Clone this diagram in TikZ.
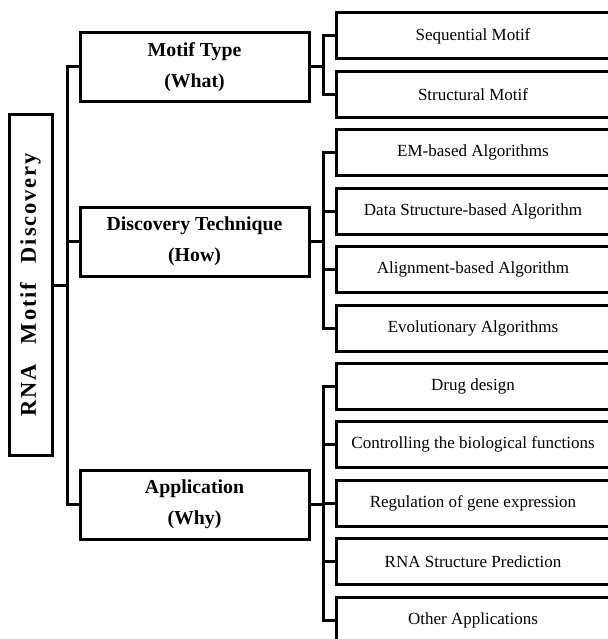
\documentclass[tikz,border=0pt]{standalone}
\usepackage{fontspec}
\setmainfont{Liberation Serif}
\newfontfamily\rootfont[LetterSpace=8]{Liberation Serif}

\begin{document}
\begin{tikzpicture}[x=1pt, y=-1pt, line width=3pt,
    box/.style={draw, rectangle, inner sep=0pt},
    leaf/.style={box, minimum width=274pt, minimum height=46pt, font=\fontsize{17}{20}\selectfont},
    mid/.style={box, minimum width=229pt, minimum height=69pt, align=center, font=\bfseries\fontsize{19.8}{31}\selectfont}]
  \useasboundingbox (0,0) rectangle (607,639);
      \node (root) at (30.5,285) [box, rotate=90, minimum width=341pt, minimum height=43pt, font=\rootfont\bfseries\fontsize{22.5}{24}\selectfont] {RNA\hspace{20pt}Motif\hspace{20pt}Discovery};
      \node (what) at (194.5,67)  [mid] {Motif Type\\(What)};
      \node (how) at (194.5,241.5)  [mid] {Discovery Technique\\(How)};
      \node (why) at (194.5,504.5)  [mid] {Application\\(Why)};
      \foreach \n/\t [count=\i from 0] in {seq/Sequential Motif, struc/Structural Motif, em/EM-based Algorithms, ds/Data Structure-based Algorithm, al/Alignment-based Algorithm, evo/Evolutionary Algorithms, drug/Drug design, ctrl/Controlling the biological functions, reg/Regulation of gene expression, rnasp/RNA Structure Prediction, other/Other Applications} {
        \node (\n) at (473,{36+58.4*\i})  [leaf] {\t};
      }
      \foreach \m in {what,how,why} \draw (root.south) -- ++(14,0) |- (\m.west);
      \foreach \n in {seq,struc} \draw (what.east) -- ++(13,0) |- (\n.west);
      \foreach \n in {em,ds,al,evo} \draw (how.east) -- ++(13,0) |- (\n.west);
      \foreach \n in {drug,ctrl,reg,rnasp,other} \draw (why.east) -- ++(13,0) |- (\n.west);

        \end{tikzpicture}
\end{document}
